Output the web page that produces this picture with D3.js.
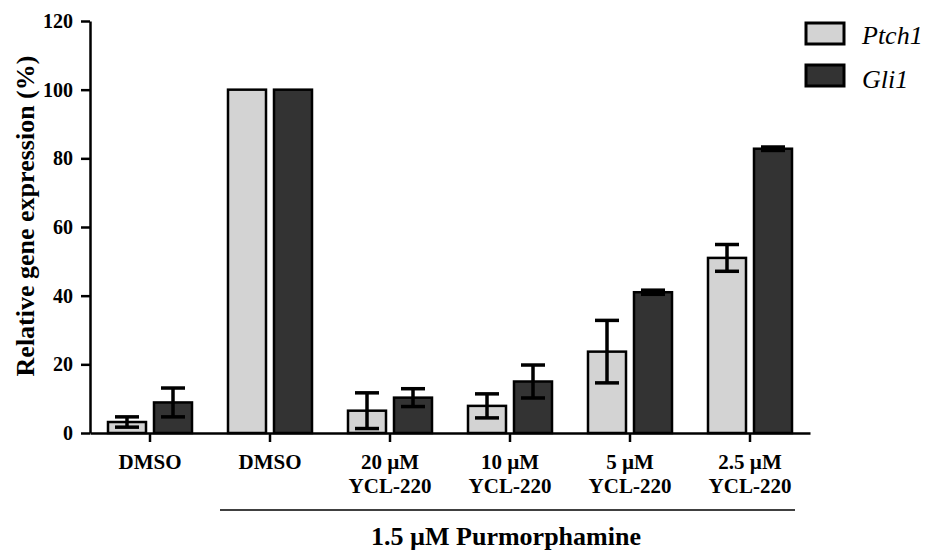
<!DOCTYPE html>
<html><head><meta charset="utf-8">
<script src="https://cdn.jsdelivr.net/npm/d3@7/dist/d3.min.js"></script>
<style>body{margin:0;background:#fff}svg{display:block}</style>
</head><body><svg id="c" width="927" height="550"></svg>
<script>
const groups = [["DMSO"],["DMSO"],["20 µM","YCL-220"],["10 µM","YCL-220"],["5 µM","YCL-220"],["2.5 µM","YCL-220"]];
const series = ["Ptch1","Gli1"];
const ptch1 = [3.2, 100, 6.5, 7.9, 23.7, 51.0];
const ptch1Err = [1.5, 0, 5.2, 3.5, 9.1, 3.9];
const gli1 = [8.9, 100, 10.3, 15.0, 41.0, 82.8];
const gli1Err = [4.2, 0, 2.6, 4.8, 0.6, 0.5];
const yTicks = [0,20,40,60,80,100,120];
const colors = ["#d3d3d3","#333333"];
const yTitle = "Relative gene expression (%)";
const bracketLabel = "1.5 µM Purmorphamine";

const svg = d3.select("#c");
const font = "Liberation Serif";
const x0 = d3.scaleBand().domain(d3.range(groups.length)).range([90,810]);
const y = d3.scaleLinear().domain([0,120]).range([433,21]);
const barW = 38, off = 23;

const vals = [ptch1, gli1], errs = [ptch1Err, gli1Err];
series.forEach((s,si)=>{
  const g = svg.append("g");
  d3.range(groups.length).forEach(i=>{
    const cx = x0(i)+x0.bandwidth()/2 + (si===0?-off:off);
    g.append("rect").attr("x",cx-barW/2).attr("y",y(vals[si][i])).attr("width",barW)
      .attr("height",y(0)-y(vals[si][i])).attr("fill",colors[si]).attr("stroke","#000").attr("stroke-width",2.5);
    const e = errs[si][i];
    if(e>0){
      const top=y(vals[si][i]+e), bot=y(vals[si][i]-e);
      g.append("line").attr("x1",cx).attr("x2",cx).attr("y1",top).attr("y2",bot).attr("stroke","#000").attr("stroke-width",3.5);
      [top,bot].forEach(yy=>g.append("line").attr("x1",cx-12).attr("x2",cx+12).attr("y1",yy).attr("y2",yy).attr("stroke","#000").attr("stroke-width",3.5));
    }
  });
});

// y axis
const ya = svg.append("g").attr("transform","translate(90,0)")
  .call(d3.axisLeft(y).tickValues(yTicks).tickSize(9).tickSizeOuter(0).tickPadding(8));
ya.select(".domain").attr("stroke","#000").attr("stroke-width",2.5);
ya.selectAll(".tick line").attr("stroke","#000").attr("stroke-width",2.5);
ya.selectAll("text").style("font-family",font).style("font-weight","bold").style("font-size","20px").attr("fill","#000");

// x axis
const xa = svg.append("g").attr("transform",`translate(0,${y(0)})`)
  .call(d3.axisBottom(x0).tickSize(9).tickSizeOuter(0).tickFormat(""));
xa.select(".domain").attr("stroke","#000").attr("stroke-width",2.5);
xa.selectAll(".tick line").attr("stroke","#000").attr("stroke-width",2.5);
groups.forEach((lines,i)=>{
  const t = svg.append("text").attr("x",x0(i)+x0.bandwidth()/2).attr("y",469).attr("text-anchor","middle")
    .style("font-family",font).style("font-weight","bold").style("font-size","21px");
  lines.forEach((l,k)=>t.append("tspan").attr("x",x0(i)+x0.bandwidth()/2).attr("dy",k?24:0).text(l));
});

// bracket
svg.append("line").attr("x1",220).attr("x2",795).attr("y1",510).attr("y2",510).attr("stroke","#000").attr("stroke-width",1.5);
svg.append("text").attr("x",506).attr("y",545).attr("text-anchor","middle").style("font-family",font)
  .style("font-weight","bold").style("font-size","26px").text(bracketLabel);

// y title
svg.append("text").attr("transform","translate(34,216) rotate(-90)").attr("text-anchor","middle")
  .style("font-family",font).style("font-weight","bold").style("font-size","26px").text(yTitle);

// legend
series.forEach((s,si)=>{
  const yy = 23 + si*42;
  svg.append("rect").attr("x",806).attr("y",yy).attr("width",38).attr("height",21).attr("fill",colors[si]).attr("stroke","#000").attr("stroke-width",3);
  svg.append("text").attr("x",862).attr("y",si===0?44:88).style("font-family",font).style("font-style","italic").style("font-size","26px").text(s);
});
</script></body></html>
